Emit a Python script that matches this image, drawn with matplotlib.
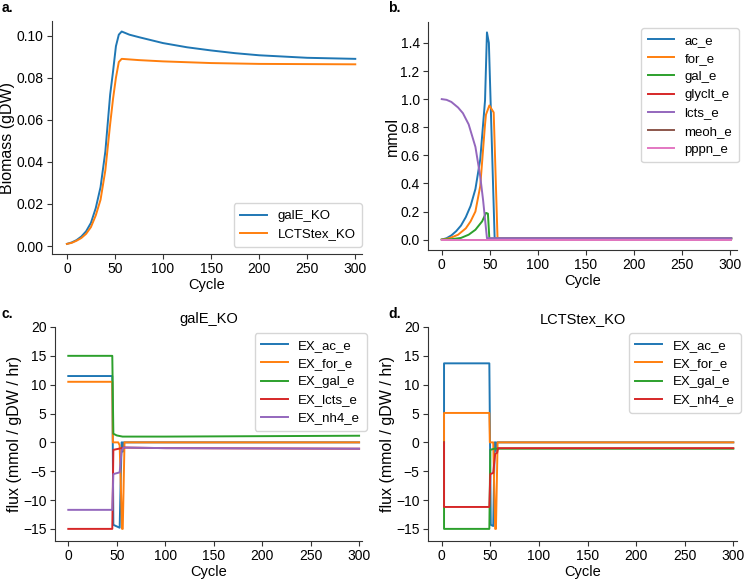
import matplotlib.pyplot as plt

plt.rcParams['font.family'] = ['Liberation Sans', 'DejaVu Sans']
plt.rcParams['font.size'] = 9.5

# a. biomass
bio_gal_x = [0, 5, 10, 15, 20, 25, 30, 35, 40, 45, 48, 51, 54, 57, 65, 75, 100, 125, 150, 175, 200, 250, 300]
bio_gal_y = [0.001, 0.0017, 0.0028, 0.0045, 0.007, 0.011, 0.018, 0.028, 0.045, 0.072, 0.083, 0.095, 0.1005,
             0.102, 0.1005, 0.0993, 0.0965, 0.0945, 0.093, 0.0917, 0.0907, 0.0895, 0.089]
bio_lct_x = [0, 5, 10, 15, 20, 25, 30, 35, 40, 45, 48, 51, 54, 57, 75, 100, 150, 200, 250, 300]
bio_lct_y = [0.001, 0.0015, 0.0025, 0.0038, 0.0058, 0.009, 0.0145, 0.022, 0.036, 0.058, 0.07, 0.08, 0.0875,
             0.089, 0.0884, 0.0878, 0.087, 0.0866, 0.0865, 0.0864]

# b. metabolites
met_names = ["ac_e", "for_e", "gal_e", "glyclt_e", "lcts_e", "meoh_e", "pppn_e"]
ac_x = [0, 5, 10, 15, 20, 25, 30, 35, 40, 45, 47, 49, 55, 301]
ac_y = [0, 0.01, 0.03, 0.06, 0.1, 0.16, 0.24, 0.36, 0.57, 0.99, 1.475, 1.4, 0.008, 0.008]
for_x = [0, 5, 10, 17, 25, 30, 35, 40, 45, 46, 49.5, 54, 58, 301]
for_y = [0, 0.005, 0.015, 0.035, 0.08, 0.13, 0.2, 0.38, 0.82, 0.89, 0.955, 0.905, 0.008, 0.008]
gal_x = [0, 10, 20, 28, 35, 42, 46, 48, 49.5, 301]
gal_y = [0, 0.003, 0.012, 0.035, 0.07, 0.13, 0.19, 0.185, 0.008, 0.008]
zero_x = [0, 301]
zero_y = [0, 0]
lcts_x = [0, 5, 10, 17, 22, 28, 35, 40, 43, 47, 301]
lcts_y = [1.0, 0.995, 0.98, 0.94, 0.9, 0.82, 0.66, 0.45, 0.28, 0.01, 0.01]

# c. galE_KO fluxes
c_names = ["EX_ac_e", "EX_for_e", "EX_gal_e", "EX_lcts_e", "EX_nh4_e"]
c_ac_x = [0, 45.4, 46.5, 53, 55, 55.8, 56.4, 57.2, 300]
c_ac_y = [11.5, 11.5, -14.3, -14.8, 0, 0, -1.6, 0, 0]
c_for_x = [0, 45.4, 46, 51.5, 53, 55.5, 56.2, 58, 300]
c_for_y = [10.5, 10.5, 0, 0, -0.5, -15, -15, 0, 0]
c_gal_x = [0, 45.4, 46.5, 50, 56, 100, 300]
c_gal_y = [15, 15, 1.5, 1.2, 1.0, 1.0, 1.15]
c_lcts_x = [0, 45.4, 46.5, 55, 58, 100, 300]
c_lcts_y = [-15, -15, -1.3, -1.0, -0.9, -1.0, -1.1]
c_nh4_x = [0, 45.4, 46.5, 53, 55, 57, 100, 300]
c_nh4_y = [-11.7, -11.7, -5.5, -5.2, -1.5, -0.9, -1.0, -1.1]

# d. LCTStex_KO fluxes
d_names = ["EX_ac_e", "EX_for_e", "EX_gal_e", "EX_nh4_e"]
d_ac_x = [2.4, 2.4, 49, 50.5, 53, 54.5, 55.5, 56.2, 57, 300]
d_ac_y = [0, 13.7, 13.7, -14.3, -14.5, 0, 0, -1.5, 0, 0]
d_for_x = [2.4, 2.4, 49, 49.5, 53, 55, 55.8, 57.5, 300]
d_for_y = [0, 5.1, 5.1, 0, 0, -15, -15, 0, 0]
d_gal_x = [2.4, 2.4, 49, 50, 54, 300]
d_gal_y = [0, -15, -15, -1.3, -1.1, -1.1]
d_nh4_x = [2.4, 2.4, 49, 50, 53, 55, 57, 58, 300]
d_nh4_y = [0, -11.2, -11.2, -5.5, -5.3, -2.0, -1.8, -1.0, -1.0]

cols = ["#1f77b4", "#ff7f0e", "#2ca02c", "#d62728", "#9467bd", "#8c564b", "#e377c2"]
lw = 1.4

fig = plt.figure(figsize=(7.5, 5.79), dpi=100)
W, H = 750, 579


def box(l, t, r, b):
    return [l / W, 1 - b / H, (r - l) / W, (b - t) / H]


ax1 = fig.add_axes(box(52, 21, 362, 254))
ax2 = fig.add_axes(box(428, 22, 737, 250))
ax3 = fig.add_axes(box(55, 327, 362, 541))
ax4 = fig.add_axes(box(428, 327, 737, 541))

for ax in [ax1, ax2, ax3, ax4]:
    ax.spines['top'].set_visible(False)
    ax.spines['right'].set_visible(False)
    ax.spines['left'].set_color('#333333')
    ax.spines['bottom'].set_color('#333333')
    ax.tick_params(colors='#333333', labelcolor='black', pad=2.5, labelsize=10)
    ax.set_xlabel("Cycle", labelpad=1, fontsize=10.5)
    ax.set_xticks([0, 50, 100, 150, 200, 250, 300])

leg_kw = dict(borderpad=0.5, labelspacing=0.45, handlelength=2.0, borderaxespad=0, fontsize=9.5)

# a
ax1.plot(bio_gal_x, bio_gal_y, color=cols[0], lw=lw, label="galE_KO")
ax1.plot(bio_lct_x, bio_lct_y, color=cols[1], lw=lw, label="LCTStex_KO")
ax1.set_xlim(-15.5, 307)
ax1.set_ylim(-0.0038, 0.107)
ax1.set_yticks([0, 0.02, 0.04, 0.06, 0.08, 0.10])
ax1.set_yticklabels(["0.00", "0.02", "0.04", "0.06", "0.08", "0.10"])
ax1.set_ylabel("Biomass (gDW)", fontsize=11.5)
ax1.yaxis.set_label_coords(-0.118, 0.5)
ax1.legend(loc="lower right", bbox_to_anchor=(1.0, 0.03), **leg_kw)

# b
met_x = [ac_x, for_x, gal_x, zero_x, lcts_x, zero_x, zero_x]
met_y = [ac_y, for_y, gal_y, zero_y, lcts_y, zero_y, zero_y]
for i, name in enumerate(met_names):
    ax2.plot(met_x[i], met_y[i], color=cols[i], lw=lw, label=name)
ax2.set_xlim(-14.3, 307)
ax2.set_ylim(-0.074, 1.549)
ax2.set_yticks([0, 0.2, 0.4, 0.6, 0.8, 1.0, 1.2, 1.4])
ax2.set_ylabel("mmol", fontsize=11.5)
ax2.yaxis.set_label_coords(-0.09, 0.5)
ax2.legend(loc="upper right", bbox_to_anchor=(1.006, 0.974), **leg_kw)

# c
c_x = [c_ac_x, c_for_x, c_gal_x, c_lcts_x, c_nh4_x]
c_y = [c_ac_y, c_for_y, c_gal_y, c_lcts_y, c_nh4_y]
for i, name in enumerate(c_names):
    ax3.plot(c_x[i], c_y[i], color=cols[i], lw=lw, label=name)
ax3.set_xlim(-13.7, 303)
ax3.set_ylim(-17.1, 20)
ax3.set_yticks([-15, -10, -5, 0, 5, 10, 15, 20])
ax3.set_ylabel("flux (mmol / gDW / hr)", fontsize=11.5)
ax3.yaxis.set_label_coords(-0.108, 0.5)
ax3.set_title("galE_KO", fontsize=10.5, pad=3)
ax3.legend(loc="upper right", bbox_to_anchor=(1.016, 0.972), **leg_kw)

# d
d_x = [d_ac_x, d_for_x, d_gal_x, d_nh4_x]
d_y = [d_ac_y, d_for_y, d_gal_y, d_nh4_y]
for i, name in enumerate(d_names):
    ax4.plot(d_x[i], d_y[i], color=cols[i], lw=lw, label=name)
ax4.set_xlim(-14.1, 303.8)
ax4.set_ylim(-17.1, 20)
ax4.set_yticks([-15, -10, -5, 0, 5, 10, 15, 20])
ax4.set_ylabel("flux (mmol / gDW / hr)", fontsize=11.5)
ax4.yaxis.set_label_coords(-0.108, 0.5)
ax4.set_title("LCTStex_KO", fontsize=10.5, pad=3)
ax4.legend(loc="upper right", bbox_to_anchor=(1.013, 0.972), **leg_kw)

# panel letters
fig.text(2 / W, 1 - 8 / H, "a.", fontweight="bold", fontsize=10, va="center")
fig.text(388 / W, 1 - 8 / H, "b.", fontweight="bold", fontsize=10, va="center")
fig.text(2 / W, 1 - 314 / H, "c.", fontweight="bold", fontsize=10, va="center")
fig.text(388 / W, 1 - 314 / H, "d.", fontweight="bold", fontsize=10, va="center")

fig.savefig("out.png", dpi=100)
